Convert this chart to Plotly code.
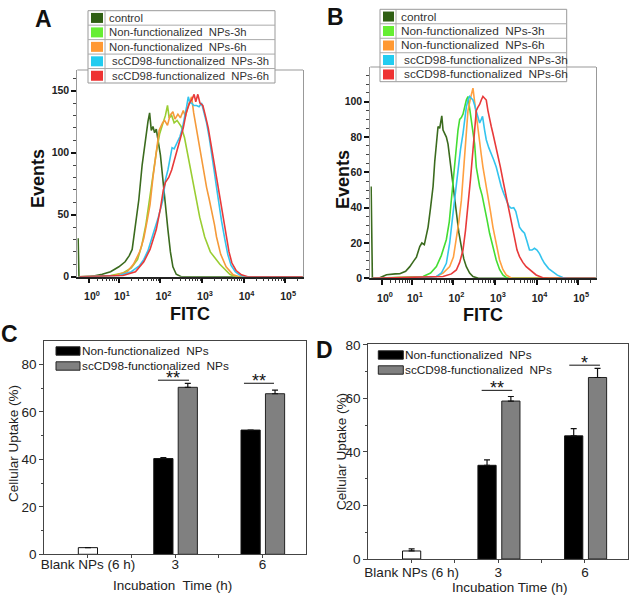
import plotly.graph_objects as go
import math

W, H = 634, 600

# ---------------- data ----------------
series_names = ["control", "Non-functionalized  NPs-3h", "Non-functionalized  NPs-6h",
                "scCD98-functionalized  NPs-3h", "scCD98-functionalized  NPs-6h"]
legend_colors = ["#2f5f14", "#66ee33", "#ff9933", "#22ccf0", "#ee3333"]
a_colors = ["#3b6b1e", "#9acd32", "#f59a3a", "#33c4ee", "#e83a3a"]
b_colors = ["#3b6b1e", "#44dd33", "#ffa040", "#33c4ee", "#e83a3a"]

# FITC axis positions are in decades of the display scale
a_control_x = [0.02, 0.04, 0.3, 0.6, 0.8, 1.0, 1.15, 1.25, 1.32, 1.4, 1.48, 1.56, 1.63, 1.7, 1.74, 1.78, 1.82, 1.86, 1.9, 1.95, 2.0, 2.06, 2.12, 2.18, 2.24, 2.3, 2.38, 2.5, 5.42]
a_control_y = [31, 0, 0, 2, 4, 8, 12, 17, 22, 40, 62, 90, 110, 125, 132, 118, 121, 116, 119, 108, 98, 78, 55, 38, 20, 8, 2, 0, 0]
a_nf3_x = [0.05, 0.8, 1.1, 1.3, 1.45, 1.55, 1.65, 1.75, 1.82, 1.9, 1.98, 2.05, 2.12, 2.17, 2.21, 2.27, 2.33, 2.4, 2.5, 2.58, 2.665, 2.75, 2.825, 2.945, 3.065, 3.2, 3.43, 3.67, 3.8, 5.42]
a_nf3_y = [0, 1, 3, 7, 14, 25, 42, 65, 85, 100, 115, 122, 130, 138, 128, 130, 124, 126, 121, 112, 97, 82, 67, 48, 32, 20, 10, 2, 0, 0]
a_nf6_x = [0.05, 0.9, 1.2, 1.35, 1.5, 1.6, 1.68, 1.75, 1.82, 1.9, 1.97, 2.05, 2.1, 2.17, 2.23, 2.3, 2.35, 2.42, 2.48, 2.55, 2.6, 2.66, 2.72, 2.75, 2.8, 2.87, 2.93, 2.99, 3.05, 3.11, 3.17, 3.23, 3.3, 3.35, 3.45, 3.58, 3.75, 3.9, 5.42]
a_nf6_y = [0, 1, 4, 10, 20, 31, 45, 58, 80, 102, 118, 124, 126, 122, 130, 133, 127, 131, 128, 134, 129, 137, 143, 145, 132, 118, 105, 94, 83, 72, 63, 54, 42, 32, 18, 8, 1.5, 0, 0]
a_sc3_x = [0.05, 1.0, 1.3, 1.5, 1.6, 1.7, 1.83, 1.95, 2.06, 2.12, 2.18, 2.23, 2.28, 2.33, 2.4, 2.47, 2.53, 2.59, 2.63, 2.67, 2.71, 2.75, 2.8, 2.87, 2.93, 2.99, 3.05, 3.11, 3.17, 3.23, 3.29, 3.35, 3.41, 3.47, 3.55, 3.62, 3.7, 3.8, 3.9, 4.0, 5.42]
a_sc3_y = [0, 1, 4, 9, 14, 21, 35, 48, 62, 78, 86, 94, 104, 103, 108, 113, 120, 129, 137, 145, 140, 140, 138, 138, 137, 140, 133, 124, 113, 101, 86, 72, 58, 45, 30, 18, 9, 4, 1.5, 0, 0]
a_sc6_x = [0.05, 1.1, 1.4, 1.6, 1.75, 1.9, 2.0, 2.07, 2.12, 2.2, 2.27, 2.35, 2.42, 2.47, 2.55, 2.62, 2.7, 2.76, 2.81, 2.85, 2.9, 2.95, 3.02, 3.08, 3.15, 3.21, 3.27, 3.33, 3.39, 3.45, 3.51, 3.58, 3.65, 3.72, 3.82, 3.95, 4.1, 5.42]
a_sc6_y = [0, 1, 4, 12, 22, 38, 55, 70, 76, 80, 86, 96, 105, 110, 120, 132, 140, 143, 147, 141, 147, 140, 138, 130, 120, 108, 96, 84, 72, 60, 48, 34, 20, 11, 5, 1.5, 0, 0]

b_control_x = [0.02, 0.05, 0.2, 0.39, 0.6, 0.71, 0.85, 0.95, 1.05, 1.11, 1.19, 1.24, 1.3, 1.39, 1.45, 1.51, 1.55, 1.59, 1.63, 1.67, 1.7, 1.72, 1.75, 1.79, 1.83, 1.87, 1.91, 1.95, 2.01, 2.07, 2.13, 2.19, 2.25, 2.31, 2.39, 2.47, 2.6, 5.42]
b_control_y = [52, 0, 0, 2, 2.5, 2.6, 4, 6.6, 10, 12, 18, 20, 19, 29, 40, 52, 66, 78, 86, 85, 90, 92, 84, 82, 80, 76, 68, 59, 47, 35, 26, 18, 11, 6.6, 3, 1, 0, 0]
b_nf3_x = [0.05, 1.27, 1.45, 1.59, 1.71, 1.83, 1.9, 1.95, 2.01, 2.07, 2.11, 2.15, 2.19, 2.23, 2.27, 2.31, 2.35, 2.39, 2.43, 2.47, 2.51, 2.55, 2.59, 2.63, 2.69, 2.75, 2.81, 2.87, 2.95, 3.03, 3.11, 3.19, 3.3, 5.42]
b_nf3_y = [0, 1, 3, 6.6, 13, 22, 32, 44, 60, 76, 84, 90, 91, 93, 98, 101, 103, 96, 90, 84, 76, 63, 58, 52, 47, 40.6, 33, 25.5, 17, 10.4, 5, 1.9, 0, 0]
b_nf6_x = [0.05, 1.59, 1.75, 1.91, 2.0, 2.07, 2.13, 2.19, 2.23, 2.27, 2.31, 2.35, 2.41, 2.45, 2.47, 2.51, 2.55, 2.59, 2.63, 2.67, 2.71, 2.77, 2.83, 2.89, 2.95, 3.03, 3.11, 3.19, 3.27, 3.4, 5.42]
b_nf6_y = [0, 1, 3, 6.6, 12, 21.7, 32, 44, 58, 72.7, 85, 95, 102, 106, 107.7, 100, 91.6, 85, 78.5, 70, 63, 55, 48, 38, 29, 19, 10.4, 5, 1.9, 0, 0]
b_sc3_x = [0.05, 1.4, 1.59, 1.71, 1.83, 1.91, 1.99, 2.05, 2.11, 2.17, 2.23, 2.27, 2.31, 2.35, 2.39, 2.43, 2.47, 2.51, 2.55, 2.59, 2.63, 2.67, 2.7, 2.75, 2.79, 2.85, 2.91, 2.97, 3.03, 3.09, 3.15, 3.21, 3.27, 3.33, 3.39, 3.45, 3.5, 3.55, 3.59, 3.65, 3.71, 3.77, 3.83, 3.89, 3.95, 4.01, 4.07, 4.13, 4.19, 4.29, 4.39, 4.5, 4.63, 4.75, 5.42]
b_sc3_y = [0, 0.5, 1, 3, 8.5, 20, 36.8, 50, 63, 73, 82, 90, 97, 101, 103, 102, 101, 98, 95, 91, 88, 90, 91.7, 84, 78.5, 74, 70.8, 67, 63, 57, 52, 48, 44, 41, 39.7, 40, 38, 33, 29, 27, 25.5, 21, 16, 16, 17, 16, 14, 11, 8.5, 5.5, 3.7, 1.8, 0.5, 0, 0]
b_sc6_x = [0.05, 1.75, 1.95, 2.07, 2.15, 2.23, 2.29, 2.35, 2.41, 2.47, 2.51, 2.55, 2.59, 2.63, 2.67, 2.71, 2.75, 2.79, 2.83, 2.87, 2.91, 2.95, 3.01, 3.07, 3.13, 3.19, 3.27, 3.35, 3.41, 3.47, 3.53, 3.59, 3.67, 3.75, 3.87, 3.99, 4.15, 4.3, 5.42]
b_sc6_y = [0, 1, 2.5, 4.7, 9, 16, 27, 40.6, 56, 72.7, 85, 95, 97, 98.5, 101, 103, 102, 101, 95, 89.7, 86, 82, 76, 70.8, 63, 55.7, 46, 36.8, 29, 21.7, 16, 12.3, 9, 6.6, 4, 1.9, 0.3, 0, 0]

fitc_ticks = ["10<sup>0</sup>", "10<sup>1</sup>", "10<sup>2</sup>", "10<sup>3</sup>", "10<sup>4</sup>", "10<sup>5</sup>"]
fitc_tickvals = [0.28, 1, 2, 3, 4, 5]

bar_labels = ["Blank NPs (6 h)", "3", "6"]
bar_names = ["Non-functionalized  NPs", "scCD98-functionalized  NPs"]
c_blank = [2.8]
c_blank_err = [0.0]
c_nonfunc = [40.3, 52.3]
c_nonfunc_err = [0.4, 0.0]
c_sc = [70.3, 67.6]
c_sc_err = [1.7, 1.5]
c_sig = ["**", "**"]
c_sig_y = [73.3, 72.0]

d_blank = [3.0]
d_blank_err = [0.8]
d_nonfunc = [35.0, 46.0]
d_nonfunc_err = [2.0, 2.7]
d_sc = [59.0, 67.8]
d_sc_err = [1.7, 3.4]
d_sig = ["**", "*"]
d_sig_y = [63.0, 72.4]

# ---------------- helpers ----------------
def fx(p):
    return p / W

def fy(p):
    return 1 - p / H

FONT = "Arial, Liberation Sans, sans-serif"
fig = go.Figure()

hist_a = [(a_control_x, a_control_y), (a_nf3_x, a_nf3_y), (a_nf6_x, a_nf6_y), (a_sc3_x, a_sc3_y), (a_sc6_x, a_sc6_y)]
hist_b = [(b_control_x, b_control_y), (b_nf3_x, b_nf3_y), (b_nf6_x, b_nf6_y), (b_sc3_x, b_sc3_y), (b_sc6_x, b_sc6_y)]
for i, (xs, ys) in enumerate(hist_a):
    fig.add_trace(go.Scatter(x=xs, y=ys, mode="lines", line=dict(color=a_colors[i], width=1.6),
                             name=series_names[i], xaxis="x", yaxis="y", showlegend=False))
for i, (xs, ys) in enumerate(hist_b):
    fig.add_trace(go.Scatter(x=xs, y=ys, mode="lines", line=dict(color=b_colors[i], width=1.6),
                             name=series_names[i], xaxis="x2", yaxis="y2", showlegend=False))

def bars(xa, ya, blank, blank_err, nf, nf_err, sc, sc_err, width, off_nf, off_sc):
    fig.add_trace(go.Bar(x=[1], y=blank, width=width, marker=dict(color="white", line=dict(color="#111", width=1)),
                         error_y=dict(type="data", array=blank_err, arrayminus=[0], symmetric=False,
                                      color="#111", thickness=1.2, width=3),
                         xaxis=xa, yaxis=ya, showlegend=False))
    fig.add_trace(go.Bar(x=[2, 3], y=nf, width=width, offset=off_nf, name=bar_names[0],
                         marker=dict(color="black", line=dict(color="#111", width=1)),
                         error_y=dict(type="data", array=nf_err, arrayminus=[0, 0], symmetric=False,
                                      color="#111", thickness=1.2, width=3),
                         xaxis=xa, yaxis=ya, showlegend=False))
    fig.add_trace(go.Bar(x=[2, 3], y=sc, width=width, offset=off_sc, name=bar_names[1],
                         marker=dict(color="#808080", line=dict(color="#222", width=1)),
                         error_y=dict(type="data", array=sc_err, arrayminus=[0, 0], symmetric=False,
                                      color="#111", thickness=1.2, width=3),
                         xaxis=xa, yaxis=ya, showlegend=False))

bars("x3", "y3", c_blank, c_blank_err, c_nonfunc, c_nonfunc_err, c_sc, c_sc_err, 0.22, -0.245, 0.035)
bars("x4", "y4", d_blank, d_blank_err, d_nonfunc, d_nonfunc_err, d_sc, d_sc_err, 0.21, -0.235, 0.04)

# ---------------- axes ----------------
def log_minor(lo, hi):
    vals = []
    for d in range(0, 6):
        for k in range(2, 10):
            v = d + math.log10(k)
            if lo < v < hi:
                vals.append(v)
    return vals

def fitc_xaxis(dom):
    return dict(domain=dom, range=[0, 5.43], showgrid=False, zeroline=False, automargin=False,
                showline=True, linecolor="#222", linewidth=1.5,
                tickmode="array", tickvals=fitc_tickvals, ticktext=fitc_ticks,
                ticks="outside", ticklen=5, tickwidth=2, tickcolor="#111",
                ticklabelshift=3, ticklabelstandoff=4,
                tickfont=dict(family=FONT, size=10.5, color="#222", weight="bold"),
                minor=dict(tickmode="array", tickvals=log_minor(0.05, 5.43), ticks="outside",
                           ticklen=3, tickwidth=1, tickcolor="#333"),
                fixedrange=True)

def events_yaxis(dom, rng, vals, minor_step, anchor):
    return dict(domain=dom, range=rng, showgrid=False, zeroline=False, anchor=anchor, automargin=False,
                showline=True, linecolor="#999", linewidth=1, mirror=True,
                tickmode="array", tickvals=vals, ticktext=[str(v) for v in vals],
                ticks="outside", ticklen=5, tickwidth=2, tickcolor="#111",
                tickfont=dict(family=FONT, size=10.5, color="#222", weight="bold"),
                minor=dict(dtick=minor_step, ticks="outside", ticklen=3, tickwidth=1, tickcolor="#444"),
                fixedrange=True)

def bar_xaxis(dom, anchor, standoff):
    return dict(domain=dom, range=[0.5, 3.5], anchor=anchor, showgrid=False, zeroline=False, automargin=False,
                showline=True, linecolor="#444", linewidth=1.2, mirror=True,
                tickmode="array", tickvals=[1, 2, 3], ticktext=bar_labels,
                ticks="outside", ticklen=3, tickwidth=1, tickcolor="#444",
                ticklabelstandoff=standoff,
                tickfont=dict(family=FONT, size=13.5, color="#222"),
                minor=dict(tickmode="array", tickvals=[1.5, 2.5], ticks="outside", ticklen=3,
                           tickwidth=1, tickcolor="#444"),
                fixedrange=True)

def bar_yaxis(dom, rng, anchor):
    return dict(domain=dom, range=rng, anchor=anchor, showgrid=False, zeroline=False, automargin=False,
                showline=True, linecolor="#444", linewidth=1.2, mirror=True,
                tickmode="array", tickvals=[0, 20, 40, 60, 80],
                ticks="outside", ticklen=4, tickwidth=1, tickcolor="#444",
                tickfont=dict(family=FONT, size=13.5, color="#222"),
                minor=dict(dtick=10, ticks="outside", ticklen=2, tickwidth=1, tickcolor="#444"),
                fixedrange=True)

A_x = [fx(77.3), fx(303)]
A_y = [fy(276.7), fy(70)]
B_x = [fx(370.3), fx(596)]
B_y = [fy(278.3), fy(67)]
C_x = [fx(44.3), fx(306)]
C_y = [fy(554.3), fy(341)]
D_x = [fx(368.3), fx(628.3)]
D_y = [fy(559), fy(344.3)]

fig.update_layout(
    width=W, height=600, autosize=False,
    margin=dict(l=0, r=0, t=0, b=0, pad=0, autoexpand=False),
    paper_bgcolor="white", plot_bgcolor="white",
    barmode="overlay",
    font=dict(family=FONT, color="#222"),
    xaxis=fitc_xaxis(A_x) | dict(anchor="y"),
    yaxis=events_yaxis(A_y, [0, 166.6], [0, 50, 100, 150], 10, "x"),
    xaxis2=fitc_xaxis(B_x) | dict(anchor="y2"),
    yaxis2=events_yaxis(B_y, [0, 119.7], [0, 20, 40, 60, 80, 100], 5, "x2"),
    xaxis3=bar_xaxis(C_x, "y3", -6),
    yaxis3=bar_yaxis(C_y, [0, 89.8], "x3"),
    xaxis4=bar_xaxis(D_x, "y4", -2),
    yaxis4=bar_yaxis(D_y, [0, 80.2], "x4"),
)

shapes = []
annots = []

for xd, yd in [(A_x, A_y), (B_x, B_y)]:
    shapes.append(dict(type="line", xref="paper", yref="paper", x0=xd[0], x1=xd[1], y0=yd[1], y1=yd[1],
                       line=dict(color="#999", width=1), layer="below"))

def table_legend(x0, x1, xdiv, y0, y1, sw_x0, sw_x1, text_x, fsize):
    n = len(series_names)
    rh = (y1 - y0) / n
    shapes.append(dict(type="rect", xref="paper", yref="paper", x0=fx(x0), x1=fx(x1), y0=fy(y1), y1=fy(y0),
                       fillcolor="white", line=dict(color="#999", width=1), layer="above"))
    shapes.append(dict(type="line", xref="paper", yref="paper", x0=fx(xdiv), x1=fx(xdiv), y0=fy(y1), y1=fy(y0),
                       line=dict(color="#aaa", width=1), layer="above"))
    for i in range(n):
        top = y0 + i * rh
        if i > 0:
            shapes.append(dict(type="line", xref="paper", yref="paper", x0=fx(x0), x1=fx(x1), y0=fy(top), y1=fy(top),
                               line=dict(color="#aaa", width=1), layer="above"))
        cy = top + rh / 2
        shapes.append(dict(type="rect", xref="paper", yref="paper", x0=fx(sw_x0), x1=fx(sw_x1),
                           y0=fy(cy + 5), y1=fy(cy - 5), fillcolor=legend_colors[i],
                           line=dict(width=0), layer="above"))
        annots.append(dict(xref="paper", yref="paper", x=fx(text_x + (3 if i >= 3 else 0)), y=fy(cy),
                           text=series_names[i].replace("  ", "&nbsp; "), showarrow=False,
                           xanchor="left", yanchor="middle",
                           font=dict(family=FONT, size=fsize, color="#333")))

table_legend(88, 275, 105, 10.7, 83, 91, 103, 107, 11.3)
table_legend(380, 566.7, 396, 9.3, 81.7, 383, 394, 399, 11.8)

def bar_legend(sw_x0, sw_x1, y_black, y_grey, text_x):
    for cy, col, name in [(y_black, "black", bar_names[0]), (y_grey, "#808080", bar_names[1])]:
        shapes.append(dict(type="rect", xref="paper", yref="paper", x0=fx(sw_x0), x1=fx(sw_x1),
                           y0=fy(cy + 4.2), y1=fy(cy - 4.2), fillcolor=col,
                           line=dict(color="#222", width=1), layer="above"))
        annots.append(dict(xref="paper", yref="paper", x=fx(text_x), y=fy(cy), text=name.replace("  ", "&nbsp; "),
                           showarrow=False, xanchor="left", yanchor="middle",
                           font=dict(family=FONT, size=11.8, color="#222")))

bar_legend(56, 80, 351, 366, 80)
bar_legend(378.3, 403.3, 355, 370, 403)

def sig(xa, ya, spans, ys, labels):
    for (a, b), yv, lab in zip(spans, ys, labels):
        shapes.append(dict(type="line", xref=xa, yref=ya, x0=a, x1=b, y0=yv, y1=yv,
                           line=dict(color="#111", width=1)))
        annots.append(dict(xref=xa, yref=ya, x=(a + b) / 2, y=yv, text=lab, showarrow=False,
                           yanchor="bottom", yshift=-9.5, font=dict(family=FONT, size=18, color="#111")))

sig("x3", "y3", [(1.803, 2.159), (2.789, 3.133)], c_sig_y, c_sig)
sig("x4", "y4", [(1.808, 2.161), (2.819, 3.173)], d_sig_y, d_sig)

def txt(x, y, s, size, bold=False, angle=0, color="#111"):
    annots.append(dict(xref="paper", yref="paper", x=fx(x), y=fy(y), text=s, showarrow=False,
                       xanchor="center", yanchor="middle", textangle=angle,
                       font=dict(family=FONT, size=size, color=color, weight="bold" if bold else "normal")))

txt(43, 19, "A", 23, True)
txt(335, 17, "B", 23, True)
txt(9, 334, "C", 23, True)
txt(324, 350, "D", 23, True)
txt(38, 179, "Events", 18, True, -90)
txt(343, 180, "Events", 18, True, -90)
txt(190, 314, "FITC", 18, True)
txt(483, 315, "FITC", 18, True)
txt(13, 444, "Cellular Uptake (%)", 13.5, False, -90, "#222")
txt(341, 452, "Cellular Uptake (%)", 13.5, False, -90, "#222")
txt(172, 585, "Incubation&nbsp; Time (h)", 13.5, False, 0, "#222")
txt(510, 587, "Incubation Time (h)", 13.5, False, 0, "#222")

fig.update_layout(shapes=shapes, annotations=annots)
fig.write_html("out.html", config={"displayModeBar": False},
               post_script="document.body.style.margin='0';document.body.style.overflow='hidden';")
